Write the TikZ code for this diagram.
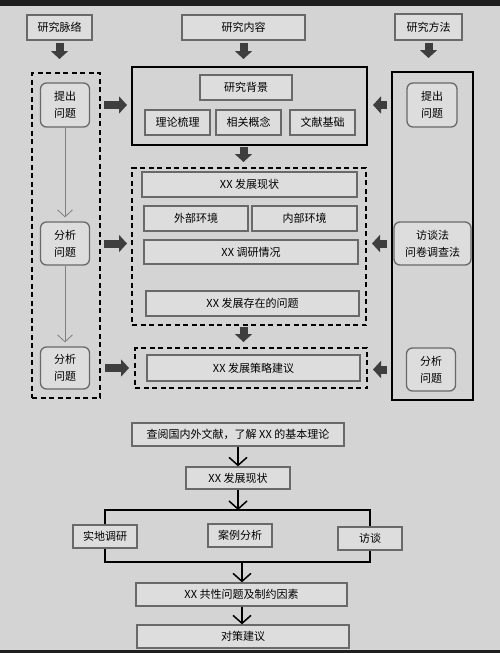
\documentclass[tikz,border=0pt]{standalone}
\usepackage{fontspec}
\newfontfamily\cjk{Noto Sans CJK SC}
\usetikzlibrary{arrows.meta}

\definecolor{paper}{RGB}{212,212,212}
\definecolor{boxfill}{RGB}{221,221,221}
\definecolor{boxline}{RGB}{105,105,105}
\definecolor{fatgray}{RGB}{62,62,62}

\tikzset{
	txtbox/.style={draw=boxline, fill=boxfill, line width=1.3pt, inner sep=1pt, align=center,
		font=\cjk\fontsize{11}{17}\selectfont},
	rbox/.style={txtbox, rounded corners=6pt},
	solidbox/.style={draw=black, line width=2pt},
	dashbox/.style={solidbox, dash pattern=on 5pt off 3.5pt},
	fatarrow/.style={draw=fatgray, line width=8pt, -{Triangle[length=8pt,width=17pt]}},
	lanearrow/.style={draw=gray, line width=0.8pt, -{Straight Barb[length=7pt,width=15pt]}},
	flowarrow/.style={draw=black, line width=1.5pt, -{Straight Barb[length=8pt,width=18pt]}},
	flowline/.style={draw=black, line width=1.5pt}
}

\begin{document}
\begin{tikzpicture}[x=1pt, y=-1pt]
		% paper
		\fill[paper] (0,0) rectangle (500,653);
		\fill[black!88] (0,0) rectangle (500,6);
		\fill[black!88] (0,650) rectangle (500,653);
		\useasboundingbox (0,0) rectangle (500,653);

		% headings
		\node[txtbox, minimum width=65, minimum height=25] (mai) at (59.5,27.5) {研究脉络};
		\node[txtbox, minimum width=123, minimum height=25] (nei) at (243.5,27.5) {研究内容};
		\node[txtbox, minimum width=67, minimum height=26] (fang) at (428.5,27) {研究方法};

		% frames
		\node[dashbox, minimum width=68, minimum height=325] (laneL) at (66,235.5) {};
		\node[solidbox, minimum width=81, minimum height=328] (laneR) at (432.5,236) {};
		\node[solidbox, minimum width=235, minimum height=78] (partA) at (249.5,106) {};
		\node[dashbox, minimum width=234, minimum height=157] (partB) at (249,246.5) {};
		\node[dashbox, minimum width=232, minimum height=40] (partC) at (251,368) {};

		% left lane
		\node[rbox, minimum width=49, minimum height=44] (tiL) at (65,105) {提出\\问题};
		\node[rbox, minimum width=49, minimum height=43] (fxL1) at (65,243.5) {分析\\问题};
		\node[rbox, minimum width=49, minimum height=42] (fxL2) at (65,368) {分析\\问题};

		% right lane
		\node[rbox, minimum width=50, minimum height=44] (tiR) at (432,105) {提出\\问题};
		\node[rbox, minimum width=77, minimum height=43] (ft) at (432.5,243.5) {访谈法\\问卷调查法};
		\node[rbox, minimum width=49, minimum height=43] (fxR) at (431,369.5) {分析\\问题};

		% content
		\node[txtbox, minimum width=92, minimum height=25] (bg) at (246,87.5) {研究背景};
		\node[txtbox, minimum width=65, minimum height=25] (ll) at (177.5,122.5) {理论梳理};
		\node[txtbox, minimum width=65, minimum height=25] (gn) at (248.5,122.5) {相关概念};
		\node[txtbox, minimum width=65, minimum height=25] (wx) at (322.5,122.5) {文献基础};

		\node[txtbox, minimum width=215, minimum height=25] (xz) at (249.5,184.5) {XX 发展现状};
		\node[txtbox, minimum width=104, minimum height=25] (wb) at (196,218.5) {外部环境};
		\node[txtbox, minimum width=105, minimum height=25] (nb) at (304.5,218.5) {内部环境};
		\node[txtbox, minimum width=214, minimum height=24] (dy) at (251,252) {XX 调研情况};
		\node[txtbox, minimum width=213, minimum height=25] (wt) at (252.5,303.5) {XX 发展存在的问题};
		\node[txtbox, minimum width=213, minimum height=26] (jy) at (253.5,368) {XX 发展策略建议};

		% block arrows
		\draw[fatarrow, shorten <=2pt, shorten >=13pt] (mai.south) -- (mai.south |- laneL.north);
		\draw[fatarrow, shorten <=2pt, shorten >=7pt] (nei.south) -- (nei.south |- partA.north);
		\draw[fatarrow, shorten <=2pt, shorten >=13pt] (fang.south) -- (fang.south |- laneR.north);
		\draw[fatarrow, shorten <=1pt, shorten >=5pt] (nei.south |- partA.south) -- (nei.south |- partB.north);
		\draw[fatarrow, shorten <=1pt, shorten >=5pt] (nei.south |- partB.south) -- (nei.south |- partC.north);
		\draw[fatarrow, shorten <=3pt, shorten >=4pt] (tiL -| laneL.east) -- (tiL -| partA.west);
		\draw[fatarrow, shorten <=3pt, shorten >=4pt] (fxL1 -| laneL.east) -- (fxL1 -| partB.west);
		\draw[fatarrow, shorten <=4pt, shorten >=5pt] (fxL2 -| laneL.east) -- (fxL2 -| partC.west);
		\draw[fatarrow, shorten <=4pt, shorten >=5pt] (tiR -| laneR.west) -- (tiR -| partA.east);
		\draw[fatarrow, shorten <=4pt, shorten >=5pt] (ft -| laneR.west) -- (ft -| partB.east);
		\draw[fatarrow, shorten <=4pt, shorten >=5pt] (fxR -| laneR.west) -- (fxR -| partC.east);

		% lane arrows
		\draw[lanearrow, shorten >=4pt] (tiL.south) -- (fxL1.north);
		\draw[lanearrow, shorten >=4pt] (fxL1.south) -- (fxL2.north);

		% lower flow
		\node[txtbox, minimum width=212, minimum height=23] (cy) at (238,434.5) {查阅国内外文献，了解 XX 的基本理论};
		\node[txtbox, minimum width=104, minimum height=22] (xz2) at (238,478) {XX 发展现状};
		\node[txtbox, minimum width=64, minimum height=23] (sd) at (105,536.5) {实地调研};
		\node[txtbox, minimum width=64, minimum height=23] (al) at (240,535.5) {案例分析};
		\node[txtbox, minimum width=64, minimum height=23] (ft2) at (370,538.5) {访谈};
		\node[txtbox, minimum width=211, minimum height=23] (gx) at (241.5,594.5) {XX 共性问题及制约因素};
		\node[txtbox, minimum width=212, minimum height=23] (dc) at (243,636.5) {对策建议};

		\coordinate (splitT) at (238,510);
		\coordinate (splitB) at (242,562);

		\draw[flowarrow] (cy.south) -- (xz2.north);
		\draw[flowarrow] (xz2.south) -- (splitT);
		\draw[flowline] (sd.north) -- (sd.north |- splitT) -- (ft2.north |- splitT) -- (ft2.north);
		\draw[flowline] (sd.south) -- (sd.south |- splitB) -- (ft2.south |- splitB) -- (ft2.south);
		\draw[flowarrow] (splitB) -- (splitB |- gx.north);
		\draw[flowarrow] (gx.south -| splitB) -- (splitB |- dc.north);
	\end{tikzpicture}
\end{document}
